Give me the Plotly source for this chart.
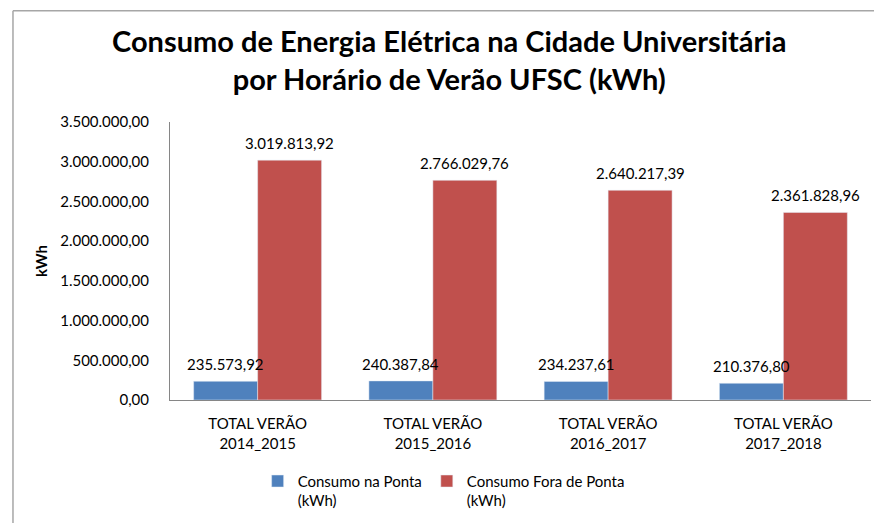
import plotly.graph_objects as go

# valores (kWh)
categorias = ["TOTAL VERÃO<br>2014_2015", "TOTAL VERÃO<br>2015_2016",
              "TOTAL VERÃO<br>2016_2017", "TOTAL VERÃO<br>2017_2018"]
consumo_ponta = [235573.92, 240387.84, 234237.61, 210376.80]
consumo_fora_ponta = [3019813.92, 2766029.76, 2640217.39, 2361828.96]
y_ticks = [0, 500000, 1000000, 1500000, 2000000, 2500000, 3000000, 3500000]

FONT = "Lato, Open Sans, sans-serif"
AXIS = "#868686"


def br(v):
    # 1234567.89 -> 1.234.567,89
    return f"{v:,.2f}".replace(",", "X").replace(".", ",").replace("X", ".")


fig = go.Figure()
fig.add_trace(go.Bar(
    x=categorias, y=consumo_ponta, name="Consumo na Ponta<br>(kWh)",
    marker=dict(color="#4F81BD"),
))
fig.add_trace(go.Bar(
    x=categorias, y=consumo_fora_ponta, name="Consumo Fora de Ponta<br>(kWh)",
    marker=dict(color="#C0504D"),
))

# rótulos de dados como anotações para ficarem por cima das barras
annotations = []
for serie, shift in ((consumo_ponta, -32), (consumo_fora_ponta, 32)):
    for cat, v in zip(categorias, serie):
        annotations.append(dict(
            x=cat, y=v, xref="x", yref="y", text=br(v), showarrow=False,
            xshift=shift, yshift=6, yanchor="bottom",
            font=dict(size=15, color="black", family=FONT),
        ))

fig.update_layout(
    width=874, height=523,
    margin=dict(l=170, r=3, t=122, b=123, pad=0),
    paper_bgcolor="white", plot_bgcolor="white",
    font=dict(family=FONT, size=15, color="black"),
    separators=",.",
    barmode="group", bargap=0.27, bargroupgap=0,
    title=dict(
        text="<b>Consumo de Energia Elétrica na Cidade Universitária<br>por Horário de Verão UFSC (kWh)</b>",
        x=0.514, xanchor="center", xref="container",
        y=0.90, yanchor="top", yref="container",
        font=dict(size=29, family=FONT, color="black"),
    ),
    legend=dict(
        orientation="h", x=0.125, xanchor="left", y=-0.233, yanchor="top",
        valign="top", font=dict(size=15), itemwidth=30,
        traceorder="normal",
    ),
    annotations=annotations,
    shapes=[
        dict(type="line", xref="paper", yref="paper",
             x0=-0.224, x1=1.01, y0=1.40, y1=1.40,
             line=dict(color="#a6a6a6", width=1.5)),
        dict(type="line", xref="paper", yref="paper",
             x0=-0.224, x1=-0.224, y0=1.40, y1=-0.45,
             line=dict(color="#a6a6a6", width=1.5)),
    ],
)
fig.update_xaxes(
    showline=True, linecolor=AXIS, linewidth=1, ticks="",
    tickfont=dict(size=15), ticklabelstandoff=10,
)
fig.update_yaxes(
    range=[0, 3500000], tickvals=y_ticks, tickformat=",.2f",
    showline=True, linecolor=AXIS, linewidth=1, showgrid=False,
    zeroline=False, ticks="", ticklabelstandoff=17,
    tickfont=dict(size=15),
    title=dict(text="<b>kWh</b>", font=dict(size=15), standoff=8),
)

fig.write_html("out.html", config={"displayModeBar": False},
               post_script="document.body.style.margin='0';")
